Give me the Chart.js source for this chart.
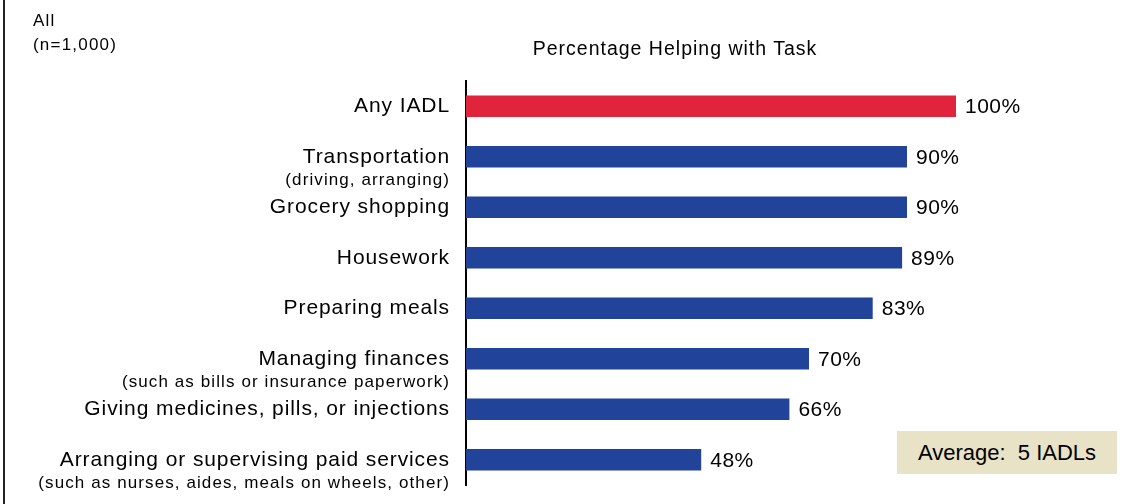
<!DOCTYPE html>
<html>
<head>
<meta charset="utf-8">
<script src="https://cdn.jsdelivr.net/npm/chart.js@4"></script>
<style>
  html, body { margin: 0; padding: 0; background: #fff; }
  body { width: 1123px; height: 504px; position: relative; overflow: hidden; font-family: "Liberation Sans", Arial, sans-serif; }
  #wrap { position: absolute; left: 0; top: 0; width: 1123px; height: 504px; }
  .frame { position: absolute; left: 3px; top: 0; width: 2px; height: 504px; background: #222; }
  .base { position: absolute; left: 33px; top: 9px; font-size: 17px; line-height: 24px; letter-spacing: 1.2px; color: #000; }
  .title { position: absolute; left: 0; width: 1350px; top: 37px; text-align: center; font-size: 19.5px; letter-spacing: 1px; color: #000; }
  .avg { position: absolute; left: 897px; top: 431px; width: 220px; height: 43px; background: #e8e3c6;
         font-size: 22px; line-height: 43px; text-align: center; white-space: pre; color: #000; }
</style>
</head>
<body>
<div id="wrap"><canvas id="chart" width="1123" height="504"></canvas></div>
<div class="frame"></div>
<div class="base">All<br>(n=1,000)</div>
<div class="title">Percentage Helping with Task</div>
<div class="avg">Average:  5 IADLs</div>
<script>
const tasks = [
    'Any IADL',
    'Transportation',
    'Grocery shopping',
    'Housework',
    'Preparing meals',
    'Managing finances',
    'Giving medicines, pills, or injections',
    'Arranging or supervising paid services'
];
const taskNotes = [
    '',
    '(driving, arranging)',
    '',
    '',
    '',
    '(such as bills or insurance paperwork)',
    '',
    '(such as nurses, aides, meals on wheels, other)'
];
const percentHelping = [100, 90, 90, 89, 83, 70, 66, 48];
const barColors = ['#df243c', '#21439a', '#21439a', '#21439a', '#21439a', '#21439a', '#21439a', '#21439a'];

// task names on the left, with the smaller note line under the name
const taskLabels = {
    id: 'taskLabels',
    afterDraw(chart) {
        const ctx = chart.ctx;
        const y = chart.scales.y;
        const right = chart.chartArea.left - 16;
        ctx.save();
        ctx.fillStyle = '#000';
        ctx.textAlign = 'right';
        ctx.textBaseline = 'middle';
        tasks.forEach((name, i) => {
            const py = y.getPixelForValue(i);
            ctx.font = '21px "Liberation Sans", Arial, sans-serif';
            ctx.letterSpacing = '0.9px';
            ctx.fillText(name, right, py);
            if (taskNotes[i]) {
                ctx.font = '17px "Liberation Sans", Arial, sans-serif';
                ctx.letterSpacing = '1.1px';
                ctx.fillText(taskNotes[i], right, py + 24);
            }
        });
        ctx.restore();
    }
};

// percent value at the end of each bar
const valueLabels = {
    id: 'valueLabels',
    afterDatasetsDraw(chart) {
        const ctx = chart.ctx;
        const meta = chart.getDatasetMeta(0);
        ctx.save();
        ctx.fillStyle = '#000';
        ctx.font = '21px "Liberation Sans", Arial, sans-serif';
        ctx.letterSpacing = '0.5px';
        ctx.textAlign = 'left';
        ctx.textBaseline = 'middle';
        meta.data.forEach((bar, i) => {
            ctx.fillText(percentHelping[i] + '%', bar.x + 9, bar.y + 1);
        });
        ctx.restore();
    }
};

new Chart(document.getElementById('chart'), {
    type: 'bar',
    data: {
        labels: tasks,
        datasets: [{
            data: percentHelping,
            backgroundColor: barColors,
            borderWidth: 0,
            barPercentage: 0.43,
            categoryPercentage: 1
        }]
    },
    options: {
        indexAxis: 'y',
        responsive: false,
        animation: false,
        layout: { padding: { top: 81, bottom: 19, right: 167, left: 0 } },
        plugins: {
            legend: { display: false },
            tooltip: { enabled: false },
            title: { display: false }
        },
        scales: {
            x: {
                display: false,
                min: 0,
                max: 100
            },
            y: {
                grid: { display: false, drawTicks: false },
                border: { display: true, color: '#000', width: 2 },
                ticks: { display: false },
                afterFit(scale) { scale.width = 466; }
            }
        }
    },
    plugins: [taskLabels, valueLabels]
});
</script>
</body>
</html>
